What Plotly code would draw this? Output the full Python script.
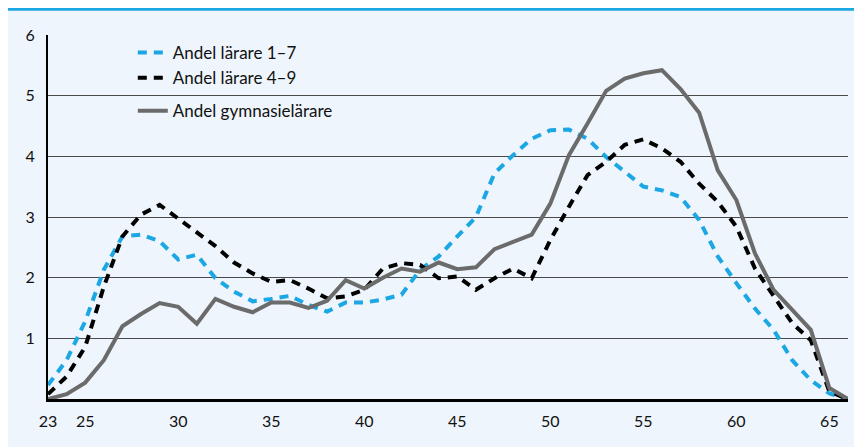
import plotly.graph_objects as go

ages = list(range(23, 67))

andel_1_7 = [0.23, 0.64, 1.28, 2.13, 2.68, 2.71, 2.60, 2.30, 2.38, 1.99, 1.77,
             1.61, 1.65, 1.70, 1.55, 1.44, 1.59, 1.59, 1.64, 1.72, 2.13,
             2.35, 2.68, 3.00, 3.72, 4.02, 4.29, 4.43, 4.44, 4.29, 3.99,
             3.74, 3.50, 3.44, 3.33, 2.95, 2.35, 1.91, 1.49, 1.14, 0.64,
             0.31, 0.09, 0.0]

andel_4_9 = [0.08, 0.37, 0.86, 1.85, 2.68, 3.04, 3.20, 2.98, 2.76, 2.52, 2.25,
             2.07, 1.93, 1.96, 1.82, 1.66, 1.69, 1.80, 2.15, 2.24, 2.21,
             1.99, 2.02, 1.80, 1.99, 2.15, 1.99, 2.62, 3.17, 3.69, 3.91,
             4.19, 4.28, 4.13, 3.91, 3.55, 3.25, 2.84, 2.15, 1.71, 1.25,
             0.97, 0.12, 0.0]

andel_gymn = [0.0, 0.08, 0.27, 0.64, 1.20, 1.40, 1.58, 1.52, 1.24, 1.65, 1.52,
              1.43, 1.59, 1.59, 1.50, 1.62, 1.96, 1.82, 2.00, 2.15, 2.10,
              2.25, 2.14, 2.17, 2.47, 2.59, 2.71, 3.22, 4.02, 4.54, 5.08,
              5.28, 5.37, 5.42, 5.11, 4.72, 3.77, 3.28, 2.40, 1.80, 1.47,
              1.14, 0.18, 0.0]

x_ticks = [23, 25, 30, 35, 40, 45, 50, 55, 60, 65]
y_ticks = [1, 2, 3, 4, 5, 6]

names = ["Andel lärare 1–7", "Andel lärare 4–9", "Andel gymnasielärare"]

BLUE = "#1BA6E4"
BG = "#EEF5FC"
FONT = "Lato, 'Open Sans', sans-serif"

fig = go.Figure()
fig.add_trace(go.Scatter(x=ages, y=andel_1_7, mode="lines", name=names[0],
                         legendgroup="a",
                         line=dict(color=BLUE, width=4, dash="9px,7px")))
fig.add_trace(go.Scatter(x=ages, y=andel_4_9, mode="lines", name=names[1],
                         legendgroup="a",
                         line=dict(color="#000000", width=4, dash="9px,7px")))
fig.add_trace(go.Scatter(x=ages, y=andel_gymn, mode="lines", name=names[2],
                         legendgroup="b",
                         line=dict(color="#6B6B6B", width=4)))

fig.update_layout(
    width=854, height=439,
    margin=dict(l=40, r=14, t=27, b=48),
    paper_bgcolor="#FFFFFF",
    plot_bgcolor="rgba(0,0,0,0)",
    font=dict(family=FONT, size=16, color="#111111"),
    showlegend=True,
    legend=dict(x=0.106, y=1.0, xanchor="left", yanchor="top",
                bgcolor="rgba(0,0,0,0)", font=dict(size=17, color="#111111"),
                tracegroupgap=8, traceorder="grouped"),
    xaxis=dict(range=[23, 66], tickmode="array", tickvals=x_ticks,
               ticktext=[str(v) for v in x_ticks], showgrid=False,
               zeroline=False, showline=True, linecolor="#000000", linewidth=2.5,
               ticks="outside", ticklen=6, tickcolor="rgba(0,0,0,0)",
               tickfont=dict(size=16)),
    yaxis=dict(range=[0, 6], tickmode="array", tickvals=y_ticks,
               ticktext=[str(v) for v in y_ticks], showgrid=True,
               gridcolor="#4A4A4A", gridwidth=1, zeroline=False,
               showline=True, linecolor="#000000", linewidth=2,
               ticks="outside", ticklen=8, tickcolor="rgba(0,0,0,0)",
               tickfont=dict(size=16)),
    shapes=[
        dict(type="rect", xref="paper", yref="paper",
             x0=-0.05, x1=1.02, y0=-0.135, y1=1.071,
             fillcolor=BG, line=dict(width=0), layer="below"),
        dict(type="line", xref="paper", yref="paper",
             x0=-0.05, x1=1.02, y0=1.071, y1=1.071,
             line=dict(color=BLUE, width=3)),
    ],
)

fig.write_html("out.html")
